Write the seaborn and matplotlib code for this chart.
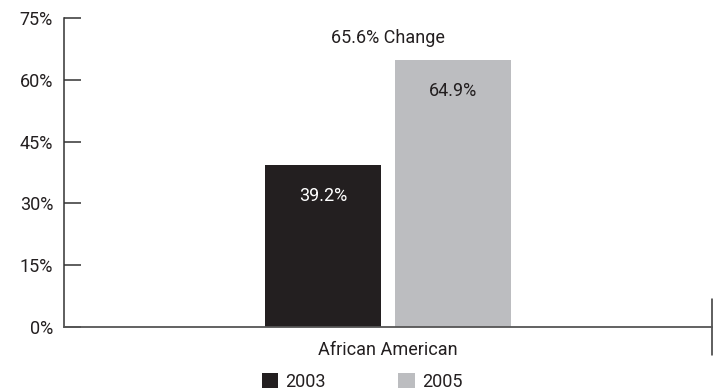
import matplotlib
matplotlib.use("Agg")
import matplotlib.pyplot as plt
import seaborn as sns
import pandas as pd

categories = ["African American"]
years = ["2003", "2005"]
values_2003 = [39.2]
values_2005 = [64.9]
change_label = "65.6% Change"
yticks = [0, 15, 30, 45, 60, 75]
colors = ["#231f20", "#bcbdc0"]

df = pd.DataFrame({
    "group": categories * 2,
    "year": [years[0]] * len(categories) + [years[1]] * len(categories),
    "value": values_2003 + values_2005,
})

sns.set_theme(style="white")
plt.rcParams["font.family"] = ["Roboto", "DejaVu Sans"]
text_color = "#231f20"
fs = 13

fig, ax = plt.subplots(figsize=(7.21, 3.92), dpi=100)
fig.subplots_adjust(left=0.089, right=0.9875, top=0.954, bottom=0.166)

sns.barplot(data=df, x="group", y="value", hue="year", palette=colors,
            width=0.401, gap=0.108, ax=ax, saturation=1, edgecolor="none")

ax.set_xlim(-0.5, 0.5)
ax.set_ylim(0, 75)
ax.set_yticks(yticks)
ax.set_yticklabels([f"{t}%" for t in yticks], fontsize=fs, color=text_color)
ax.tick_params(axis="y", direction="in", length=12, width=1.1, color="#333333", pad=8, left=True)
ax.tick_params(axis="x", length=0, pad=10, labelsize=fs, labelcolor=text_color)
ax.set_xlabel("")
ax.set_ylabel("")
for s in ["top", "right"]:
    ax.spines[s].set_visible(False)
ax.spines["left"].set_color("#333333")
ax.spines["bottom"].set_color("#555555")
ax.spines["left"].set_linewidth(1.1)
ax.spines["bottom"].set_linewidth(1.3)

# right category separator tick crossing the axis
ax.plot([1.0, 1.0], [-0.09, 0.09], transform=ax.transAxes, color="#333333",
        lw=1.1, clip_on=False)

# value labels inside bars
for cont, col in zip(ax.containers, ["white", text_color]):
    for bar in cont:
        h = bar.get_height()
        ax.text(bar.get_x() + bar.get_width() / 2, h - 7.5, f"{h:.1f}%",
                ha="center", va="center", fontsize=fs, color=col)

ax.text(0, 70.2, change_label, ha="center", va="center", fontsize=fs, color=text_color)

sns.move_legend(ax, "upper center", bbox_to_anchor=(0.46, -0.095), ncol=2,
                frameon=False, title=None, fontsize=fs, handlelength=0.9,
                handleheight=0.9, columnspacing=4.0, handletextpad=0.4)
for t in ax.get_legend().get_texts():
    t.set_color(text_color)

fig.savefig("out.png", dpi=100)
